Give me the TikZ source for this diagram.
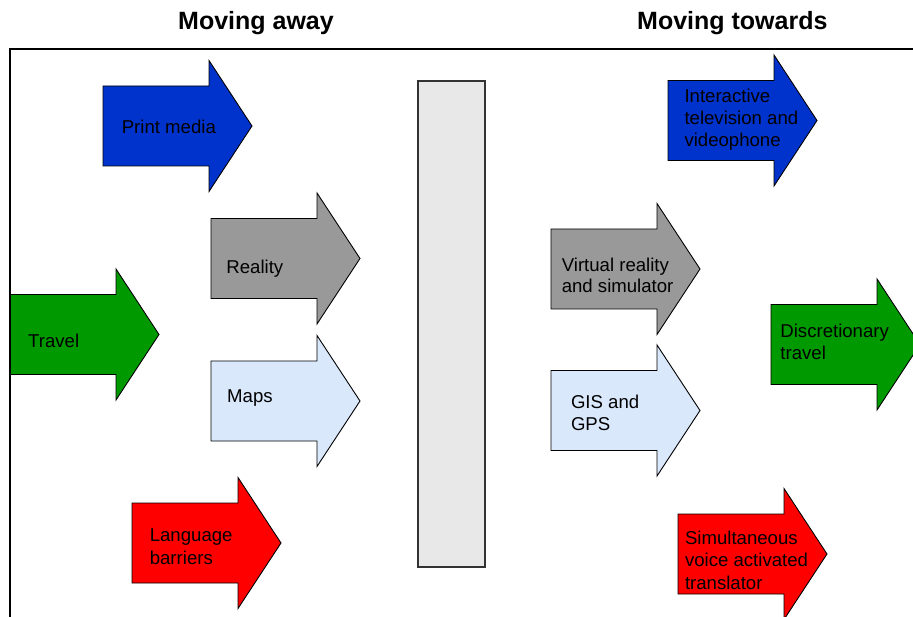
\documentclass[tikz,border=0pt]{standalone}
\usepackage{fontspec}
\setmainfont{Liberation Sans}

\definecolor{arrowblue}{RGB}{0,51,204}
\definecolor{arrowgreen}{RGB}{0,153,0}
\definecolor{arrowred}{RGB}{255,0,0}
\definecolor{arrowgray}{RGB}{153,153,153}
\definecolor{arrowpale}{RGB}{218,232,252}
\definecolor{barfill}{RGB}{232,232,232}
\definecolor{barline}{RGB}{51,51,51}

\tikzset{
  blockarrow/.style={draw=black, line width=0.9pt, line join=miter},
  lbl/.style={anchor=base west, inner sep=0pt, text=black,
              font=\fontsize{18.6}{22}\selectfont},
  ttl/.style={anchor=base west, inner sep=0pt, text=black,
              font=\fontsize{25}{30}\selectfont\bfseries},
  divider/.style={draw=barline, fill=barfill, line width=1.3pt},
  frameline/.style={draw=black, line width=2pt},
}

% block arrow: fill colour, left x of the shaft, centre y
\newcommand\fatarrow[3]{%
  \filldraw[blockarrow, fill=#1] (#2,#3-40) -- ++(106,0) -- ++(0,-25.5)
    -- ++(43,65.5) -- ++(-43,65.5) -- ++(0,-25.5) -- ++(-106,0) -- cycle;}

% left-aligned lines with a given line pitch, baseline on the first line
\newcommand\textlines[2]{\vtop{\baselineskip=#1pt\halign{##\hfil\cr#2\crcr}}}

\begin{document}
\begin{tikzpicture}[x=1pt, y=-1pt]
  \useasboundingbox (0,0) rectangle (913,617);

  % headings
  \node[ttl] (away) at (178,30) {Moving away};
  \node[ttl] (towards) at (637,30) {Moving towards};

  % left column
  \fatarrow{arrowblue}{103}{126}
  \fatarrow{arrowgray}{211}{258.5}
  \fatarrow{arrowgreen}{10}{334.5}
  \fatarrow{arrowpale}{211}{401}
  \fatarrow{arrowred}{132}{543}

  % centre divider
  \draw[divider] (418,81) rectangle (485,567);

  % right column
  \fatarrow{arrowblue}{668}{120.5}
  \fatarrow{arrowgray}{551}{269}
  \fatarrow{arrowpale}{551}{410.5}
  \fatarrow{arrowgreen}{771}{344.5}
  \fatarrow{arrowred}{678}{554}

  % labels
  \node[lbl] (print) at (121.6,134) {Print media};
  \node[lbl] (reality) at (226.2,273.3) {Reality};
  \node[lbl] (travel) at (28,347.3) {Travel};
  \node[lbl] (maps) at (227,402.7) {Maps};
  \node[lbl] (language) at (149.6,541.7) {\textlines{22.3}{Language\cr barriers}};

  \node[lbl] (itv) at (684.3,102.3) {\textlines{22}{Interactive\cr television and\cr videophone}};
  \node[lbl] (vr) at (561.6,271.5) {\textlines{21}{Virtual reality\cr and simulator}};
  \node[lbl] (gis) at (570.8,408.3) {\textlines{21.7}{GIS and\cr GPS}};
  \node[lbl] (dtravel) at (780.2,337.7) {\textlines{22.3}{Discretionary\cr travel}};
  \node[lbl] (svt) at (684.8,544) {\textlines{22.5}{Simultaneous\cr voice activated\cr translator}};

  % frame edges
  \draw[frameline] (10,630) -- (10,49) -- (925,49);
\end{tikzpicture}
\end{document}
